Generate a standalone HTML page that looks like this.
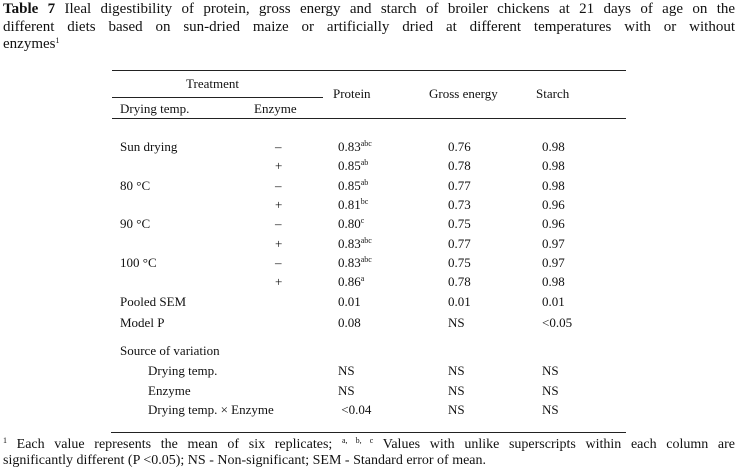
<!DOCTYPE html>
<html><head><meta charset="utf-8"><style>
body{margin:0;background:#fff;width:738px;height:468px;position:relative;overflow:hidden;font-family:"Liberation Serif",serif;color:#111}
.t{position:absolute;white-space:nowrap;font-size:13px;line-height:15px}
.ttl{position:absolute;left:3px;width:732px;font-size:15px;line-height:17.5px;text-align:justify;text-align-last:justify}
.rule{position:absolute;height:1px;background:#222}
sup{font-size:8px;vertical-align:5px;line-height:0}
</style></head><body>
<div class="ttl" style="top:1px"><b>Table 7</b> Ileal digestibility of protein, gross energy and starch of broiler chickens at 21 days of age on the</div>
<div class="ttl" style="top:18.5px">different diets based on sun-dried maize or artificially dried at different temperatures with or without</div>
<div class="ttl" style="top:36px;text-align-last:left">enzymes<sup>1</sup></div>

<div class="rule" style="left:112px;width:514px;top:70px"></div>
<div class="rule" style="left:112px;width:211px;top:97px"></div>
<div class="rule" style="left:112px;width:514px;top:118px"></div>
<div class="rule" style="left:111px;width:515px;top:432px"></div>

<div class="t" style="left:186px;top:76px">Treatment</div>
<div class="t" style="left:333px;top:86px">Protein</div>
<div class="t" style="left:429px;top:86px">Gross energy</div>
<div class="t" style="left:536px;top:86px">Starch</div>
<div class="t" style="left:120px;top:101px">Drying temp.</div>
<div class="t" style="left:254px;top:101px">Enzyme</div>

<div id="rows"></div>
<script>
const labels=["Sun drying","","80 °C","","90 °C","","100 °C",""];
const enzyme=["–","+","–","+","–","+","–","+"];
const protein=["0.83","0.85","0.85","0.81","0.80","0.83","0.83","0.86"];
const proteinSup=["abc","ab","ab","bc","c","abc","abc","a"];
const energy=["0.76","0.78","0.77","0.73","0.75","0.77","0.75","0.78"];
const starch=["0.98","0.98","0.98","0.96","0.96","0.97","0.97","0.98"];
const rowTops=[139,158,178,197,216,236,255,274];
const c=document.getElementById('rows');
function add(x,y,html,name){const d=document.createElement('div');d.className='t';d.style.left=x+'px';d.style.top=y+'px';d.innerHTML=html;


c.appendChild(d);}
for(let i=0;i<8;i++){const y=rowTops[i];
if(labels[i])add(120,y,labels[i],'row-label');
add(275,y,enzyme[i],'enzyme-cell');
add(338,y,protein[i]+'<sup>'+proteinSup[i]+'</sup>','protein-cell');
add(448,y,energy[i],'energy-cell');
add(542,y,starch[i],'starch-cell');}
const extra=[["Pooled SEM",120,294,"0.01","0.01","0.01"],["Model P",120,315,"0.08","NS","&lt;0.05"],["Source of variation",120,343,"","",""],["Drying temp.",148,363,"NS","NS","NS"],["Enzyme",148,383,"NS","NS","NS"],["Drying temp. × Enzyme",148,402,"&nbsp;&lt;0.04","NS","NS"]];
extra.forEach(r=>{add(r[1],r[2],r[0],'stat-label');if(r[3])add(338,r[2],r[3],'stat-protein');if(r[4])add(448,r[2],r[4],'stat-energy');if(r[5])add(542,r[2],r[5],'stat-starch');});
</script>
<div class="ttl" style="top:436px;font-size:14px;line-height:17px"><sup>1</sup> Each value represents the mean of six replicates; <sup>a, b, c</sup> Values with unlike superscripts within each column are</div>
<div class="ttl" style="top:452px;font-size:14px;line-height:17px;text-align-last:left">significantly different (P &lt;0.05); NS - Non-significant; SEM - Standard error of mean.</div>
</body></html>
